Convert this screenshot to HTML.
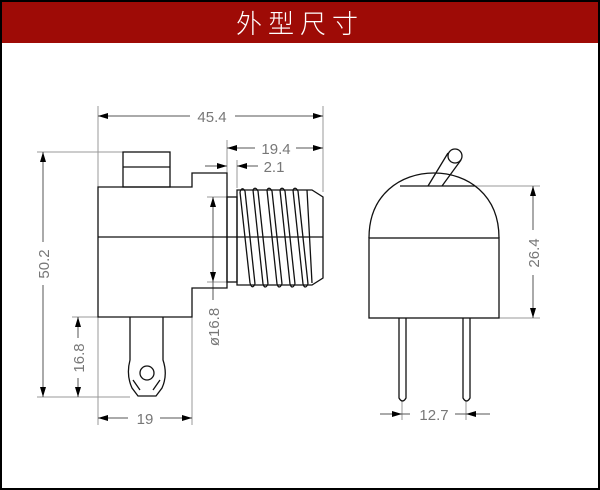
<!DOCTYPE html>
<html><head><meta charset="utf-8"><style>
html,body{margin:0;padding:0;background:#fff}
.wrap{width:596px;height:486px;border:2px solid #000;position:relative;overflow:hidden}
.hd{position:absolute;left:0;top:0;width:596px;height:41px;background:#9e0b06;color:#fff;text-align:center;font:300 26px/41px "Noto Sans CJK SC","WenQuanYi Zen Hei",sans-serif;letter-spacing:6px}
svg{position:absolute;left:-2px;top:-2px}
text{font-family:"Liberation Sans",sans-serif;font-size:15px;fill:#777}
</style></head><body><div class="wrap"><div class="hd">外型尺寸</div>
<svg width="600" height="490" viewBox="0 0 600 490">
<defs><marker id="a" viewBox="0 0 10 6" refX="10" refY="3" markerWidth="10" markerHeight="6" orient="auto-start-reverse" markerUnits="userSpaceOnUse"><path d="M0,0L10,3L0,6z" fill="#000"/></marker></defs>
<g fill="none" stroke="#999" stroke-width="1">
<path d="M98,106V425M323,106V192M227,140V173M237,160V188M192,317V425M37,152H123M37,397H130M72,317H98M207,197H227M207,282H227M475,186H540M499,318H540M402,400V420M466,400V420"/>
</g>
<g stroke="#555" stroke-width="1" fill="none">
<line x1="98" y1="116" x2="190" y2="116" marker-start="url(#a)"/><line x1="235" y1="116" x2="323" y2="116" marker-end="url(#a)"/>
<line x1="227" y1="148" x2="255" y2="148" marker-start="url(#a)"/><line x1="296" y1="148" x2="323" y2="148" marker-end="url(#a)"/>
<line x1="205" y1="166" x2="227" y2="166" marker-end="url(#a)"/><line x1="258" y1="166" x2="237" y2="166" marker-end="url(#a)"/>
<line x1="213" y1="240" x2="213" y2="197" marker-end="url(#a)"/><line x1="213" y1="240" x2="213" y2="282" marker-end="url(#a)"/><line x1="213" y1="282" x2="213" y2="300"/>
<line x1="98" y1="418" x2="128" y2="418" marker-start="url(#a)"/><line x1="160" y1="418" x2="192" y2="418" marker-end="url(#a)"/>
<line x1="43" y1="152" x2="43" y2="242" marker-start="url(#a)"/><line x1="43" y1="285" x2="43" y2="397" marker-end="url(#a)"/>
<line x1="78" y1="317" x2="78" y2="338" marker-start="url(#a)"/><line x1="78" y1="378" x2="78" y2="397" marker-end="url(#a)"/>
<line x1="533" y1="186" x2="533" y2="230" marker-start="url(#a)"/><line x1="533" y1="275" x2="533" y2="318" marker-end="url(#a)"/>
<line x1="380" y1="414" x2="402" y2="414" marker-end="url(#a)"/><line x1="490" y1="414" x2="466" y2="414" marker-end="url(#a)"/><line x1="402" y1="414" x2="410" y2="414"/><line x1="455" y1="414" x2="466" y2="414"/>
</g>
<g stroke="#111" stroke-width="1.3" fill="none">
<rect x="123" y="152" width="47" height="35"/><line x1="123" y1="167" x2="170" y2="167"/>
<path d="M98,187H192V173H227V288H192V317H98Z"/>
<line x1="98" y1="237" x2="323" y2="237"/>
<rect x="227" y="197" width="10" height="85"/>
<path d="M237,190H312L323,197V278L312,285H237Z"/>
<path d="M240,192L250,283M245,191L255,284M253,190L263,284M258,191L268,284M267,190L277,284M272,191L282,284M280,190L290,284M285,191L295,284M293,190L303,284M298,191L308,284M307,190L312,283"/>
<path d="M240,192Q242,186 245,191M253,190Q255,186 258,191M267,190Q269,186 272,191M280,190Q282,186 285,191M293,190Q295,186 298,191M250,283Q252,290 255,284M263,284Q265,290 268,284M277,284Q279,290 282,284M290,284Q292,290 295,284M303,284Q305,290 308,284"/>
<path d="M130,317V360Q126,375 132,388L138,396H156L162,388Q168,375 163,360V317"/>
<path d="M133,380L140,390M160,380L153,390"/>
<circle cx="147" cy="373" r="7"/>
<rect x="369" y="238" width="130" height="80"/>
<path d="M369,238C369,195 400,173 434,173C468,173 499,195 499,238"/>
<line x1="400" y1="186" x2="475" y2="186"/>
<path d="M428,186L448,153M442,186L461,160"/>
<circle cx="455" cy="156" r="7" fill="#fff"/>
<path d="M399,318V398Q402.5,404 406,398V318M463,318V398Q466.5,404 470,398V318"/>
</g>
<text x="212" y="122" text-anchor="middle">45.4</text>
<text x="276" y="154" text-anchor="middle">19.4</text>
<text x="274" y="172" text-anchor="middle">2.1</text>
<text x="145" y="424" text-anchor="middle">19</text>
<text x="434" y="420" text-anchor="middle">12.7</text>
<text transform="translate(49,264) rotate(-90)" text-anchor="middle">50.2</text>
<text transform="translate(84,358) rotate(-90)" text-anchor="middle">16.8</text>
<text transform="translate(219,327) rotate(-90)" text-anchor="middle">ø16.8</text>
<text transform="translate(539,253) rotate(-90)" text-anchor="middle">26.4</text>
</svg></div></body></html>
